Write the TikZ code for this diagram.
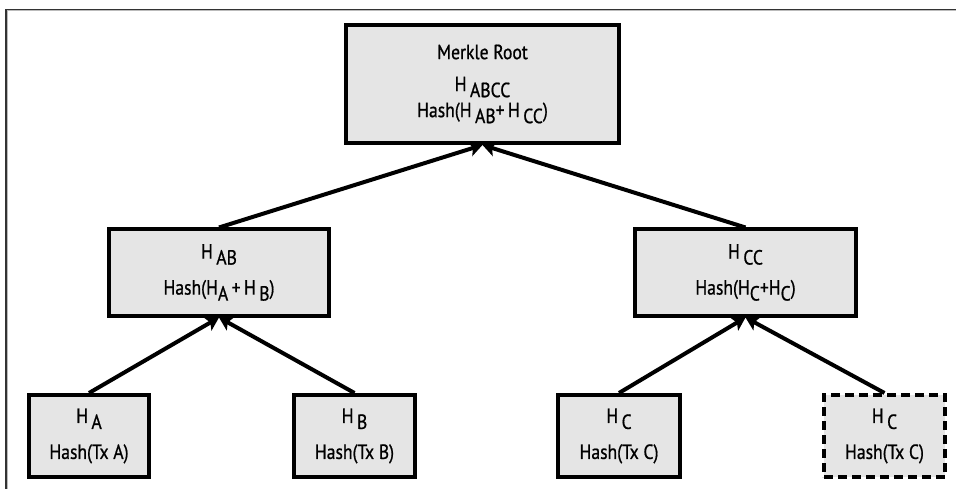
\documentclass[tikz,border=0pt]{standalone}
\usepackage{fontspec}
\setmainfont{PT Sans}[FakeStretch=0.86,FakeBold=0.8]
\usetikzlibrary{arrows.meta}
\definecolor{boxgray}{HTML}{E5E5E5}
\definecolor{framedark}{HTML}{333333}
\definecolor{framelight}{HTML}{BBBBBB}
\newcommand{\lo}[1]{\raisebox{-6pt}{#1}}
\newcommand{\boxfont}{\fontsize{20.5pt}{26pt}\selectfont}
\begin{document}
\begin{tikzpicture}[x=1pt,y=-1pt,
  box/.style 2 args={draw=black, line width=4pt, fill=boxgray, inner sep=0pt,
    align=center, font=\boxfont, minimum width=#1, minimum height=#2},
  dashbox/.style={dash pattern=on 9pt off 5pt},
  arr/.style={line width=4pt, -{Stealth[length=13pt,width=15pt,inset=3pt]}}]
\useasboundingbox (0,0) rectangle (956,489);
% frame
\draw[line width=1.2pt, framedark] (6,489) -- (6,9.5) -- (956,9.5);
\draw[line width=1pt, framelight] (7.6,489) -- (7.6,11) -- (956,11);
% nodes
\node[box={273pt}{118pt}] (root) at (482.5,84)
  {Merkle Root\\[6pt] H\,\lo{ABCC}\\ Hash(H\,\lo{AB}+\,H\,\lo{CC})};
\node[box={220pt}{86pt}] (hab) at (219,272.5)
  {H\,\lo{AB}\\[10pt] Hash(H\lo{A}\,+\,H\,\lo{B})};
\node[box={221pt}{86pt}] (hcc) at (745.5,272.5)
  {H\,\lo{CC}\\[10pt] Hash(H\lo{C}+H\lo{C})};
\node[box={120pt}{82pt}] (ha) at (89,436) {H\,\lo{A}\\[10pt] Hash(Tx A)};
\node[box={121pt}{82pt}] (hb) at (354.5,436) {H\,\lo{B}\\[10pt] Hash(Tx B)};
\node[box={122pt}{82pt}] (hc) at (619,436) {H\,\lo{C}\\[10pt] Hash(Tx C)};
\node[box={121pt}{82pt}, dashbox] (hc2) at (884.5,436) {H\,\lo{C}\\[10pt] Hash(Tx C)};
% connectors
\draw[arr] (hab.north) -- (root.south);
\draw[arr] (hcc.north) -- (root.south);
\draw[arr] (ha.north) -- (hab.south);
\draw[arr] (hb.north) -- (hab.south);
\draw[arr] (hc.north) -- (hcc.south);
\draw[arr] (hc2.north) -- (hcc.south);
\end{tikzpicture}
\end{document}
